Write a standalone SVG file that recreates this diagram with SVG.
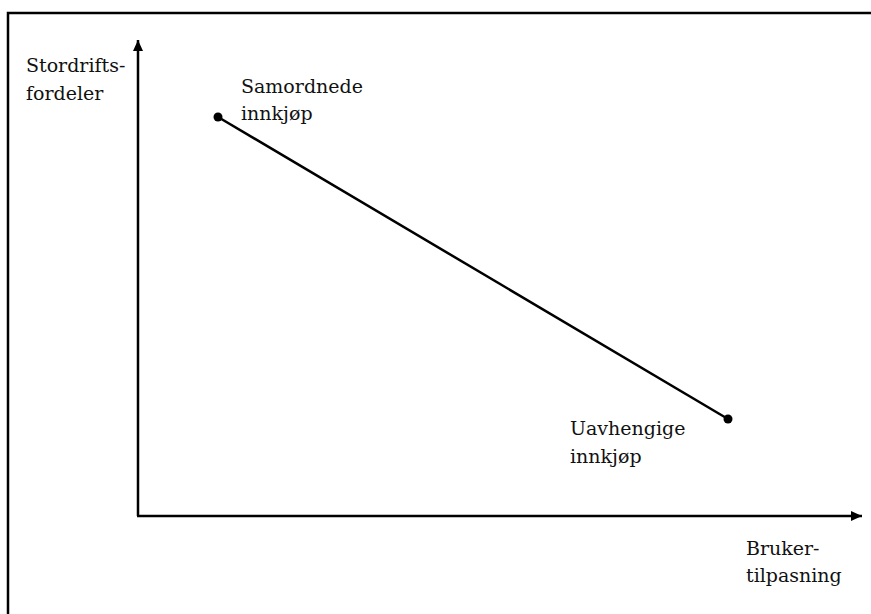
<svg xmlns="http://www.w3.org/2000/svg" width="871" height="614" viewBox="0 0 871 614">
<style>
text{font-size:19px;fill:#111}
.ax{stroke:#000;stroke-width:2.5;fill:none}
</style>
<defs>
<marker id="ah" markerUnits="userSpaceOnUse" markerWidth="12" markerHeight="10" refX="11" refY="5" orient="auto">
<path d="M0,0 L11,5 L0,10 Z" fill="#000"/>
</marker>
</defs>
<rect x="0" y="0" width="871" height="614" fill="#fff"/>
<rect id="frame" x="8" y="13" width="880" height="620" fill="none" stroke="#000" stroke-width="2.5"/>
<g id="connectors">
<line class="ax" x1="138" y1="516" x2="138" y2="40" marker-end="url(#ah)"/>
<line class="ax" x1="137" y1="516" x2="862" y2="516" marker-end="url(#ah)"/>
<line class="ax" x1="218" y1="117" x2="728" y2="419"/>
</g>
<g id="y-label" style="font-family:'DejaVu Serif'"><text x="26" y="72">Stordrifts-</text><text x="26" y="100">fordeler</text></g>
<g id="x-label" style="font-family:'DejaVu Serif'"><text x="746" y="555">Bruker-</text><text x="746" y="582">tilpasning</text></g>
<g id="samordnede" style="font-family:'DejaVu Serif'"><circle cx="218" cy="117" r="4.5" fill="#000"/><text x="241" y="93">Samordnede</text><text x="241" y="120">innkjøp</text></g>
<g id="uavhengige" style="font-family:'DejaVu Serif'"><circle cx="728" cy="419" r="4.5" fill="#000"/><text x="570" y="435">Uavhengige</text><text x="570" y="463">innkjøp</text></g>
</svg>
